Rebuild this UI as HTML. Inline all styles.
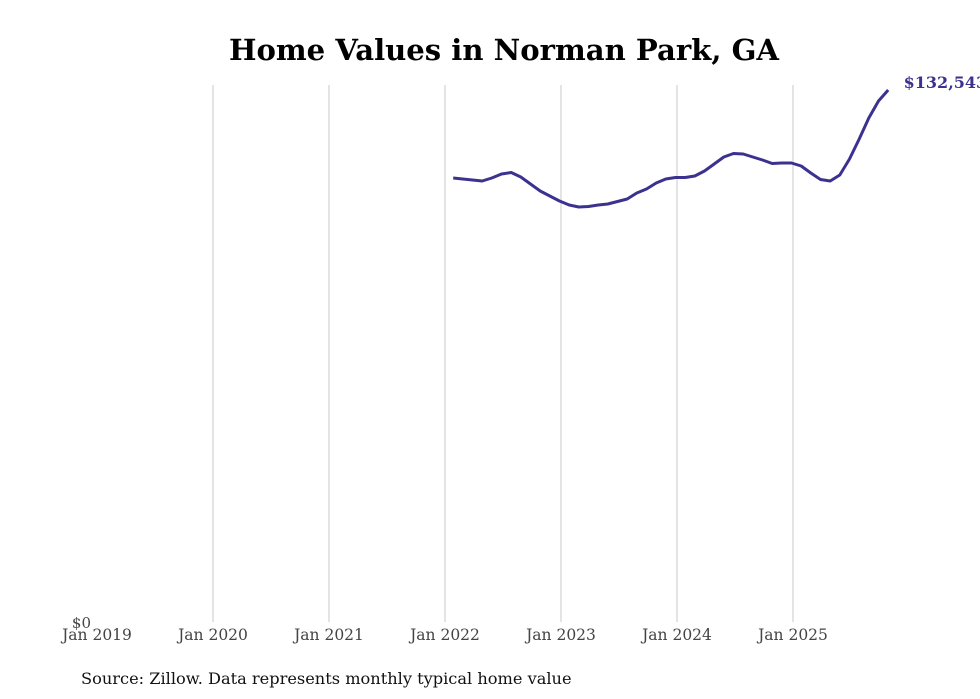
<!DOCTYPE html>
<html><head><meta charset="utf-8"><style>
body{margin:0;background:#fff;width:980px;height:699px;overflow:hidden}
svg{display:block;font-family:"DejaVu Serif","Liberation Serif",serif}
</style></head><body>
<svg id="chart" width="980" height="699" xmlns="http://www.w3.org/2000/svg">
<text x="504" y="60" text-anchor="middle" font-size="29" font-weight="bold" fill="#000" textLength="550" lengthAdjust="spacingAndGlyphs">Home Values in Norman Park, GA</text>
<g id="grid"></g><g id="xticks"></g>
<text x="91" y="628" text-anchor="end" font-size="15" fill="#444">$0</text>
<path id="line" fill="none" stroke="#3b3290" stroke-width="3" stroke-linejoin="round"/>
<text id="endlabel" font-size="16" font-weight="bold" fill="#3b3290"></text>
<text x="81" y="684" font-size="16.2" fill="#111">Source: Zillow. Data represents monthly typical home value</text>
</svg>
<script>
const tickLabels=["Jan 2019","Jan 2020","Jan 2021","Jan 2022","Jan 2023","Jan 2024","Jan 2025"];
const startMonth=37; // months since Jan 2019 (Feb 2022)
const values=[110618,110370,110120,109871,110618,111615,111989,110867,109123,107379,106133,104888,103891,103393,103518,103891,104140,104763,105386,106881,107877,109372,110370,110743,110743,111117,112363,114107,115851,116723,116598,115851,115104,114232,114356,114356,113609,111865,110245,109871,111366,115353,120335,125567,129802,132543];
const yMax=132543;
const ns="http://www.w3.org/2000/svg";
const x=m=>97+m*116/12;
const y=v=>622-v/yMax*532;
const grid=document.getElementById('grid'),xt=document.getElementById('xticks');
tickLabels.forEach((t,i)=>{
  const xx=x(i*12);
  if(i>0){const l=document.createElementNS(ns,'line');
    
    
    l.setAttribute('x1',xx);l.setAttribute('x2',xx);l.setAttribute('y1',85);l.setAttribute('y2',622);
    l.setAttribute('stroke','#c8c8c8');l.setAttribute('stroke-width','1');grid.appendChild(l);}
  const tx=document.createElementNS(ns,'text');
  
  
  tx.setAttribute('x',xx);tx.setAttribute('y',640);tx.setAttribute('text-anchor','middle');
  tx.setAttribute('font-size','15.5');tx.setAttribute('fill','#444');tx.textContent=t;xt.appendChild(tx);
});
let d='';values.forEach((v,i)=>{d+=(i?'L':'M')+(x(startMonth+i)-1.5).toFixed(1)+','+y(v).toFixed(1);});
document.getElementById('line').setAttribute('d',d);
const last=values[values.length-1],el=document.getElementById('endlabel');
el.setAttribute('x',x(startMonth+values.length-1)+14);el.setAttribute('y',y(last)-2);
el.textContent='$'+last.toLocaleString('en-US');
</script>
</body></html>
